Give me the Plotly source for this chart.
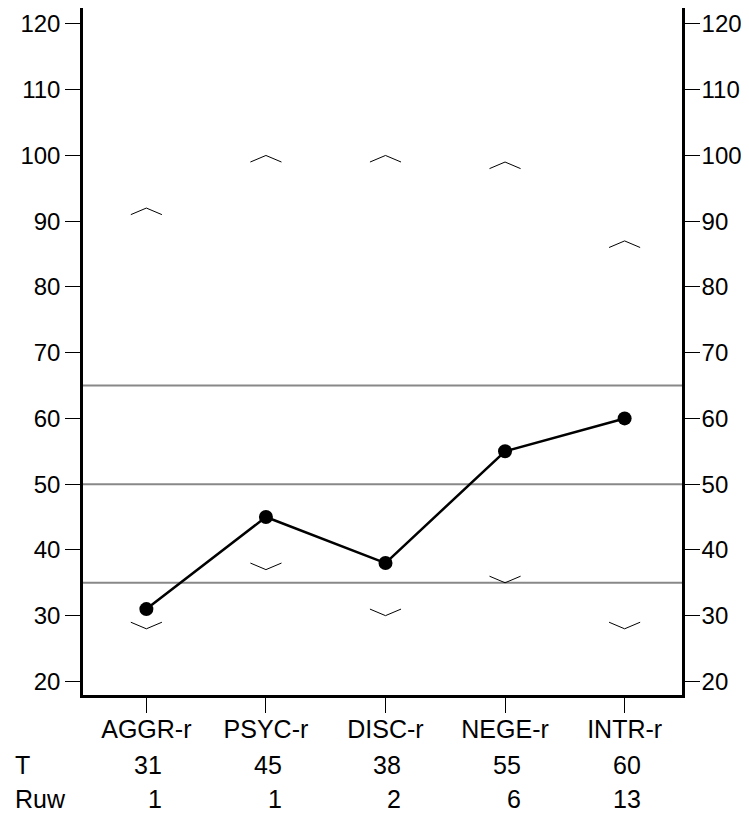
import plotly.graph_objects as go

categories = ["AGGR-r", "PSYC-r", "DISC-r", "NEGE-r", "INTR-r"]
t_scores = [31, 45, 38, 55, 60]
raw_scores = [1, 1, 2, 6, 13]
upper_bound = [91.5, 99.5, 99.5, 98.5, 86.5]
lower_bound = [28.5, 37.5, 30.5, 35.5, 28.5]
ref_lines = [35, 50, 65]
y_ticks = [20, 30, 40, 50, 60, 70, 80, 90, 100, 110, 120]

FONT = "Liberation Sans, Arial, sans-serif"
FS = 25
FS_Y = 24
Y_RANGE = [17.93, 122.43]
X_RANGE = [-0.53, 4.48]
HW = 0.13   # chevron half width (x units)
HH = 0.5    # chevron half height (y units)

xs = list(range(len(categories)))

fig = go.Figure()

# reference lines
for v in ref_lines:
    fig.add_shape(type="line", xref="paper", x0=0, x1=1, yref="y", y0=v, y1=v,
                  line=dict(color="#888888", width=2), layer="below")

# upper chevrons (^)
ux, uy = [], []
for i, v in enumerate(upper_bound):
    ux += [i - HW, i, i + HW, None]
    uy += [v - HH, v + HH, v - HH, None]
fig.add_trace(go.Scatter(x=ux, y=uy, mode="lines", line=dict(color="black", width=1),
                         showlegend=False, hoverinfo="skip"))

# lower chevrons (v)
lx, ly = [], []
for i, v in enumerate(lower_bound):
    lx += [i - HW, i, i + HW, None]
    ly += [v + HH, v - HH, v + HH, None]
fig.add_trace(go.Scatter(x=lx, y=ly, mode="lines", line=dict(color="black", width=1),
                         showlegend=False, hoverinfo="skip"))

# T-score profile
fig.add_trace(go.Scatter(x=xs, y=t_scores, mode="lines+markers",
                         line=dict(color="black", width=2.5),
                         marker=dict(color="black", size=14),
                         showlegend=False))

# dummy trace on right axis
fig.add_trace(go.Scatter(x=[None], y=[None], yaxis="y2", showlegend=False))

# rows under the axis
rows = [("T", t_scores, -70), ("Ruw", raw_scores, -104)]
for label, vals, shift in rows:
    fig.add_annotation(text=label, xref="paper", x=0, xshift=-70, xanchor="left",
                       yref="paper", y=0, yshift=shift, yanchor="middle",
                       showarrow=False, font=dict(family=FONT, size=FS, color="black"))
    for i, v in enumerate(vals):
        fig.add_annotation(text=str(v), xref="x", x=i, xshift=18, xanchor="right",
                           yref="paper", y=0, yshift=shift, yanchor="middle",
                           showarrow=False, font=dict(family=FONT, size=FS, color="black"))

axis_common = dict(showgrid=False, zeroline=False, showline=True, linecolor="black",
                   linewidth=2.5, ticks="outside", ticklen=15, tickwidth=1,
                   tickcolor="black")

# the page adds an 8px body margin, so the figure is sized to fit the window
fig.update_layout(
    width=741, height=808,
    margin=dict(l=75, r=67, t=0, b=121),
    paper_bgcolor="white", plot_bgcolor="white",
    font=dict(family=FONT, size=FS, color="black"),
    xaxis=dict(range=X_RANGE, tickvals=xs, ticktext=categories, ticklabelstandoff=-5,
               tickfont=dict(family=FONT, size=FS, color="black"), **axis_common),
    yaxis=dict(range=Y_RANGE, tickvals=y_ticks,
               tickfont=dict(family=FONT, size=FS_Y, color="black"), **axis_common),
    yaxis2=dict(range=Y_RANGE, tickvals=y_ticks, overlaying="y", side="right",
                ticklabelstandoff=-3,
                tickfont=dict(family=FONT, size=FS_Y, color="black"), **axis_common),
)

fig.write_html("out.html")
